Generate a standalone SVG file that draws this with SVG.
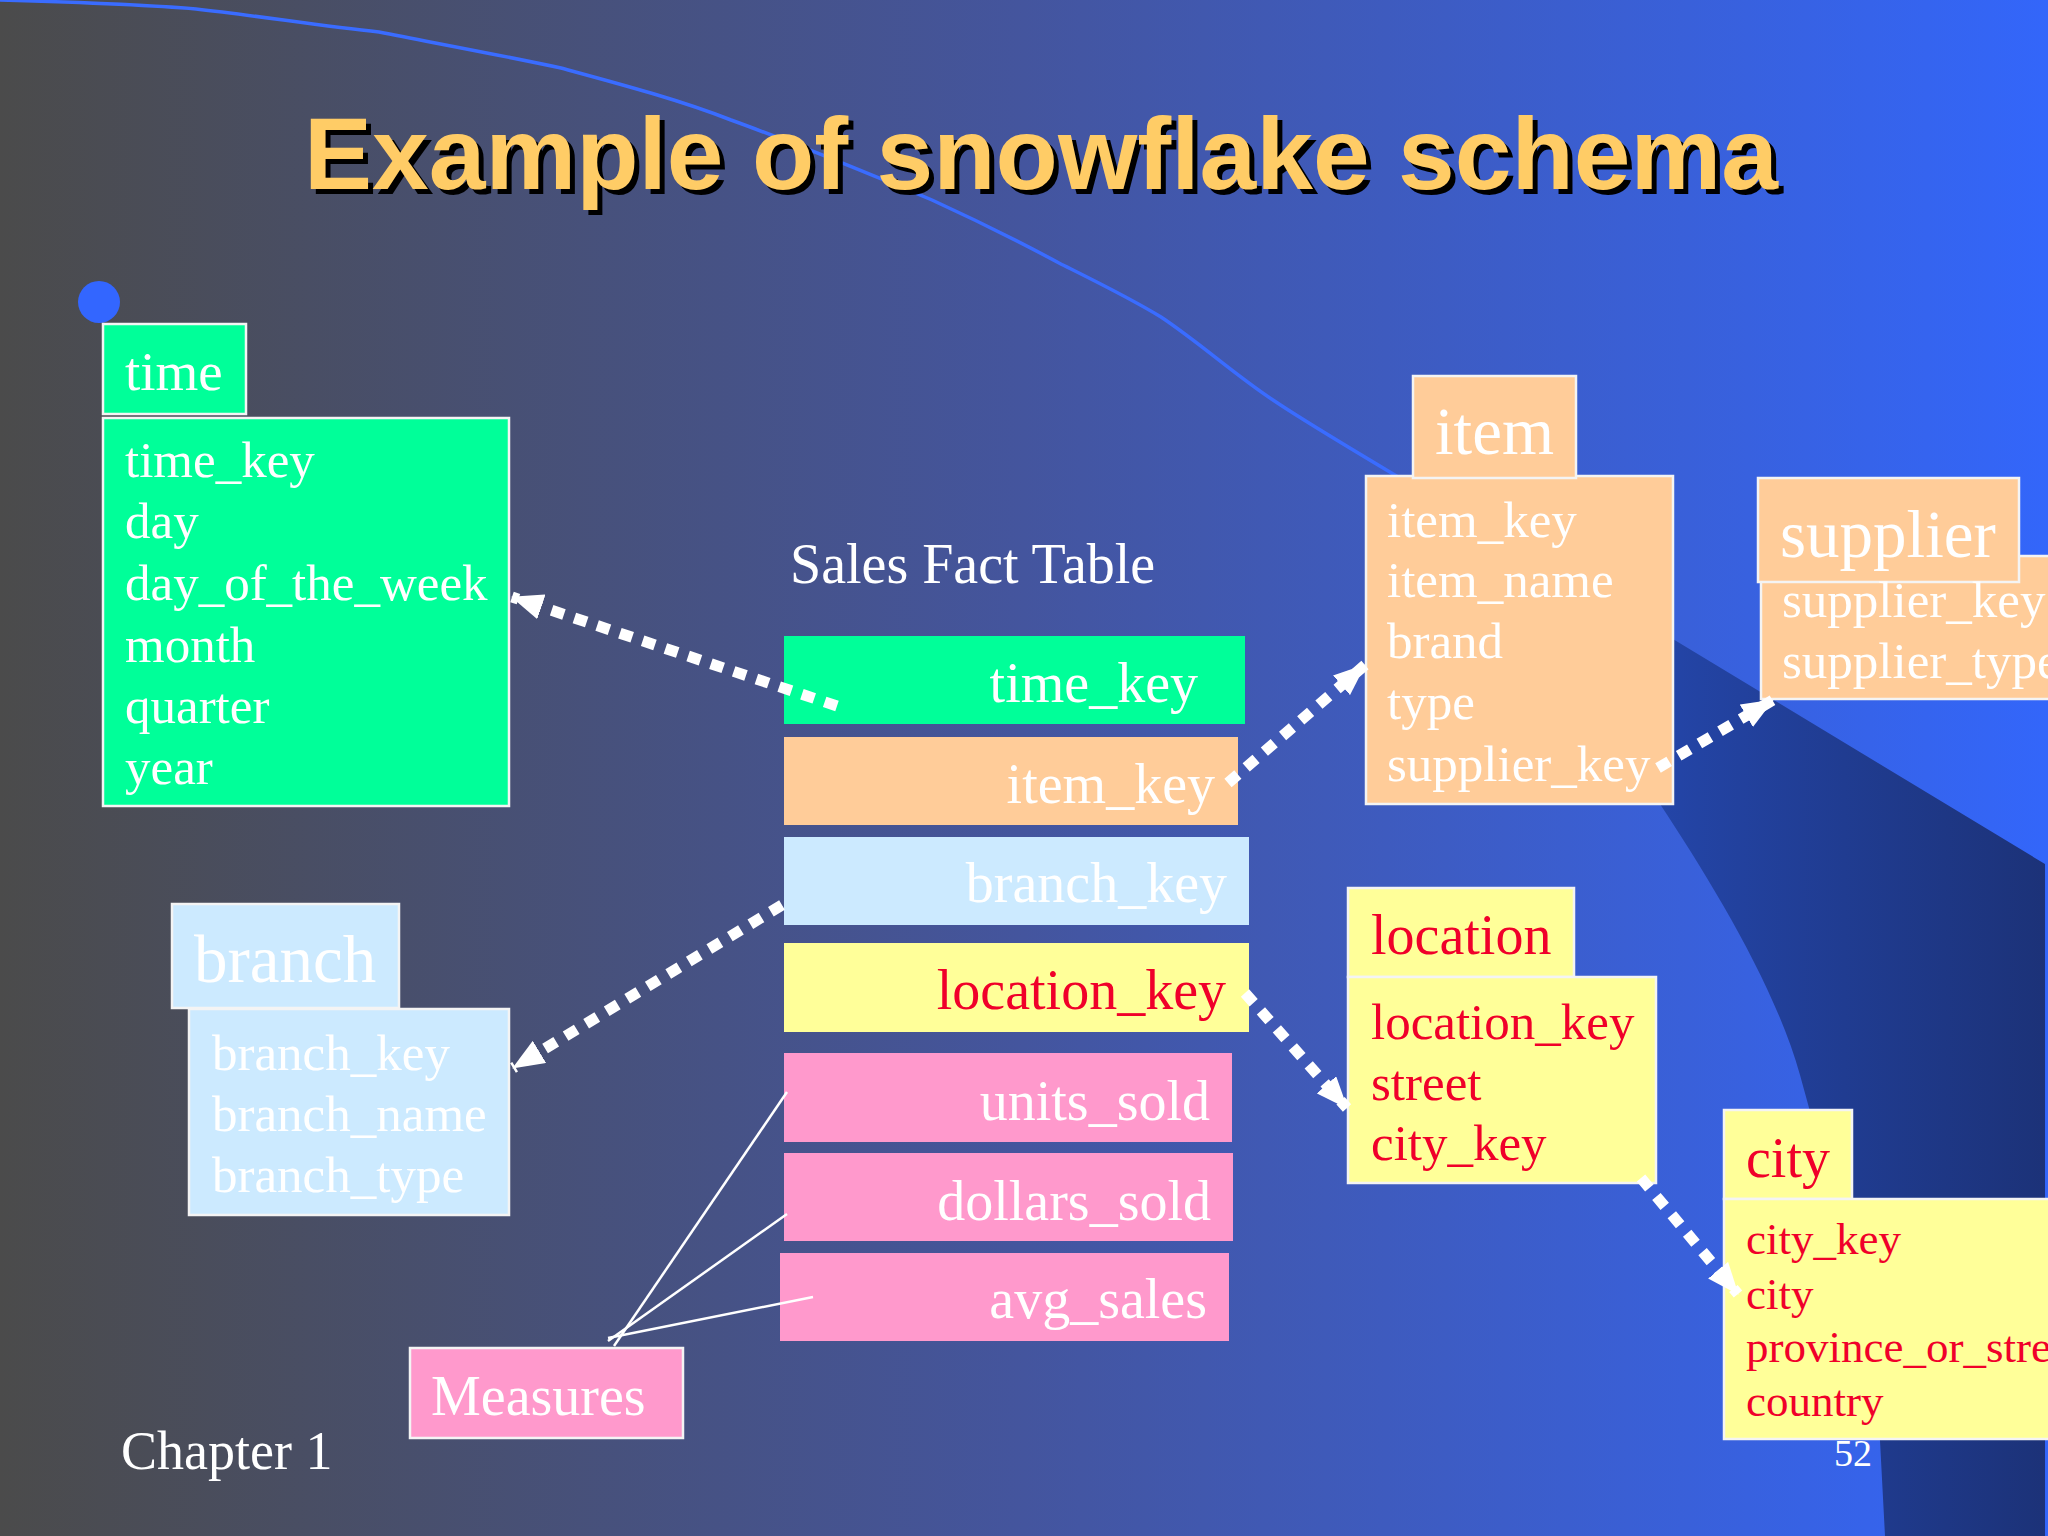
<svg xmlns="http://www.w3.org/2000/svg" width="2048" height="1536" viewBox="0 0 2048 1536">
  <defs>
    <linearGradient id="bg" x1="0" y1="0" x2="1" y2="0">
      <stop offset="0" stop-color="#4b4b4b"/>
      <stop offset="0.5" stop-color="#44559e"/>
      <stop offset="1" stop-color="#3366fa"/>
    </linearGradient>
    <linearGradient id="dark" x1="1640" y1="0" x2="2048" y2="0" gradientUnits="userSpaceOnUse">
      <stop offset="0" stop-color="#2446aa"/>
      <stop offset="1" stop-color="#1c3278"/>
    </linearGradient>
    <marker id="arr" viewBox="0 0 32 26" refX="31" refY="13" markerWidth="32" markerHeight="26" markerUnits="userSpaceOnUse" orient="auto">
      <path d="M0,0 L32,13 L0,26 z" fill="#ffffff"/>
    </marker>
    <style>
      .t { font-family: "Liberation Serif", "Times New Roman", serif; fill: #ffffff; }
      .red { fill: #f0002a; }
      .f51 { font-size: 51px; }
      .f45 { font-size: 45px; }
      .f56 { font-size: 56px; }
      .f67 { font-size: 67px; }
      .end { text-anchor: end; }
      .box { stroke: #f4f4f4; stroke-width: 2.5; }
      .green { fill: #00ff99; }
      .peach { fill: #ffcc99; }
      .lblue { fill: #cceaff; }
      .yellow { fill: #ffff99; }
      .pink { fill: #ff99cc; }
      .dots { fill: none; stroke: #ffffff; stroke-width: 11; stroke-dasharray: 13 11; marker-end: url(#arr); }
      .thin { fill: none; stroke: #ffffff; stroke-width: 2.5; }
    </style>
  </defs>

  <!-- background -->
  <rect x="0" y="0" width="2048" height="1536" fill="url(#bg)"/>
  <path d="M1420,486 L2045,864 L2045,1536 L1885,1536 L1880,1441 C1868,1330 1825,1165 1800,1075 C1775,985 1710,880 1660,804 Z" fill="url(#dark)"/>
  <path d="M0,0 C70,2 140,4 196,9 C260,16 320,26 379,32 C440,44 500,55 561,68 C620,84 680,100 731,120 C795,143 860,170 932,200 C980,222 1020,242 1059,263 C1095,281 1130,298 1161,317 C1200,343 1235,375 1273,400 C1310,425 1370,460 1420,490" fill="none" stroke="#3a6cff" stroke-width="3.5"/>

  <!-- title -->
  <g id="title" font-family="'Liberation Sans', Arial, sans-serif" font-weight="bold" font-size="102" text-anchor="middle">
    <text x="1046" y="194" fill="#000000">Example of snowflake schema</text>
    <text x="1041" y="189" fill="#ffcc66">Example of snowflake schema</text>
  </g>

  <circle cx="99" cy="302" r="21" fill="#3366ff"/>

  <!-- time dimension -->
  <g id="time">
    <rect class="box green" x="103" y="324" width="143" height="90"/>
    <text class="t" x="125" y="390" font-size="55">time</text>
    <rect class="box green" x="103" y="418" width="406" height="388"/>
    <text class="t f51" x="125" y="477">time_key</text>
    <text class="t f51" x="125" y="538">day</text>
    <text class="t f51" x="125" y="600">day_of_the_week</text>
    <text class="t f51" x="125" y="662">month</text>
    <text class="t f51" x="125" y="723">quarter</text>
    <text class="t f51" x="125" y="784">year</text>
  </g>

  <!-- branch dimension -->
  <g id="branch">
    <rect class="box lblue" x="172" y="904" width="227" height="104"/>
    <text class="t f67" x="194" y="982">branch</text>
    <rect class="box lblue" x="189" y="1009" width="320" height="206"/>
    <text class="t f51" x="212" y="1070">branch_key</text>
    <text class="t f51" x="212" y="1131">branch_name</text>
    <text class="t f51" x="212" y="1192">branch_type</text>
  </g>

  <!-- sales fact table -->
  <g id="fact">
    <text class="t f56" x="790" y="583">Sales Fact Table</text>
    <rect class="green" x="784" y="636" width="461" height="88"/>
    <text class="t f56 end" x="1198" y="702">time_key</text>
    <rect class="peach" x="784" y="737" width="454" height="88"/>
    <text class="t f56 end" x="1215" y="803">item_key</text>
    <rect class="lblue" x="784" y="837" width="465" height="88"/>
    <text class="t f56 end" x="1227" y="902">branch_key</text>
    <rect class="yellow" x="784" y="943" width="465" height="89"/>
    <text class="t red f56 end" x="1226" y="1009">location_key</text>
    <rect class="pink" x="784" y="1053" width="448" height="89"/>
    <text class="t f56 end" x="1210" y="1120">units_sold</text>
    <rect class="pink" x="784" y="1153" width="449" height="88"/>
    <text class="t f56 end" x="1211" y="1220">dollars_sold</text>
    <rect class="pink" x="780" y="1253" width="449" height="88"/>
    <text class="t f56 end" x="1207" y="1318">avg_sales</text>
  </g>

  <!-- measures -->
  <g id="measures">
    <rect class="box pink" x="410" y="1348" width="273" height="90"/>
    <text class="t f56" x="431" y="1415">Measures</text>
  </g>

  <!-- item dimension -->
  <g id="item">
    <rect class="box peach" x="1366" y="476" width="307" height="328"/>
    <rect class="box peach" x="1413" y="376" width="163" height="102"/>
    <text class="t f67" x="1435" y="454">item</text>
    <text class="t f51" x="1387" y="537">item_key</text>
    <text class="t f51" x="1387" y="597">item_name</text>
    <text class="t f51" x="1387" y="658">brand</text>
    <text class="t f51" x="1387" y="719">type</text>
    <text class="t f51" x="1387" y="781">supplier_key</text>
  </g>

  <!-- supplier dimension -->
  <g id="supplier">
    <rect class="box peach" x="1761" y="556" width="300" height="143"/>
    <rect class="box peach" x="1758" y="478" width="261" height="104"/>
    <text class="t f67" x="1780" y="557">supplier</text>
    <text class="t f51" x="1782" y="617">supplier_key</text>
    <text class="t f51" x="1782" y="678">supplier_type</text>
  </g>

  <!-- location dimension -->
  <g id="location">
    <rect class="box yellow" x="1348" y="888" width="226" height="89"/>
    <text class="t red f56" x="1371" y="954">location</text>
    <rect class="box yellow" x="1348" y="977" width="308" height="206"/>
    <text class="t red f51" x="1371" y="1039">location_key</text>
    <text class="t red f51" x="1371" y="1100">street</text>
    <text class="t red f51" x="1371" y="1160">city_key</text>
  </g>

  <!-- page number -->
  <text class="t" x="1834" y="1466" font-size="38">52</text>

  <!-- city dimension -->
  <g id="city">
    <rect class="box yellow" x="1724" y="1110" width="128" height="89"/>
    <text class="t red f56" x="1746" y="1177">city</text>
    <rect class="box yellow" x="1724" y="1199" width="340" height="240"/>
    <text class="t red f45" x="1746" y="1254">city_key</text>
    <text class="t red f45" x="1746" y="1309">city</text>
    <text class="t red f45" x="1746" y="1362">province_or_street</text>
    <text class="t red f45" x="1746" y="1416">country</text>
  </g>

  <text class="t" x="121" y="1469" font-size="54">Chapter 1</text>

  <!-- connectors -->
  <g id="connectors">
    <path class="dots" d="M837,706 L512,597"/>
    <path class="dots" d="M1228,783 L1365,665"/>
    <path class="dots" d="M782,905 L513,1068"/>
    <path class="dots" d="M1245,993 L1347,1108"/>
    <path class="dots" d="M1658,768 L1773,700"/>
    <path class="dots" d="M1641,1178 L1738,1294"/>
    <path class="thin" d="M614,1346 L787,1092"/>
    <path class="thin" d="M608,1341 L787,1214"/>
    <path class="thin" d="M608,1338 L813,1297"/>
  </g>
</svg>
